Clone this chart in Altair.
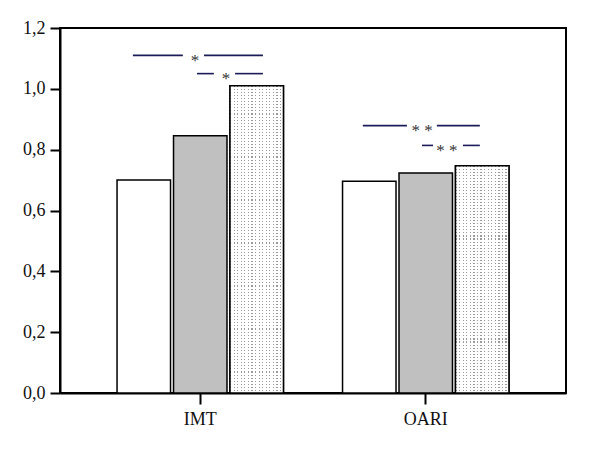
import altair as alt
import pandas as pd

# ---- data ----
categories = ["IMT", "OARI"]
series = ["white", "gray", "dotted"]
values_imt = [0.700, 0.846, 1.010]
values_oari = [0.696, 0.723, 0.747]
series_fill = ["#ffffff", "#c0c0c0", "#e4e4e4"]

# significance annotations (x in group units: IMT=0, OARI=1)
seg_x1 = [-0.298, 0.018, -0.013, 0.156, 0.724, 1.053, 0.987, 1.169]
seg_x2 = [-0.076, 0.280, 0.062, 0.280, 0.920, 1.244, 1.036, 1.244]
seg_y = [1.110, 1.110, 1.050, 1.050, 0.879, 0.879, 0.814, 0.814]
star_x = [-0.022, 0.116, 0.987, 1.098]
star_y = [1.110, 1.050, 0.879, 0.814]
star_text = ["*", "*", "* *", "* *"]

y_ticks = [round(i * 0.1, 1) for i in range(13)]

rows = []
for cat, vals in zip(categories, [values_imt, values_oari]):
    for s, v in zip(series, vals):
        rows.append({"cat": cat, "series": s, "value": v})
bars_df = pd.DataFrame(rows)
seg_df = pd.DataFrame({"x1": seg_x1, "x2": seg_x2, "y": seg_y})
star_df = pd.DataFrame({"x": star_x, "y": star_y, "t": star_text})

FONT = "Liberation Serif, Times New Roman, serif"


# ---- dotted texture built from two striped gradients (style only) ----
def stripes(n, frac, on, off, horizontal):
    stops = []
    for k in range(n):
        a = k / n
        b = (k + frac) / n
        c = (k + 1) / n
        stops += [
            alt.GradientStop(offset=a, color=on),
            alt.GradientStop(offset=b, color=on),
            alt.GradientStop(offset=b, color=off),
            alt.GradientStop(offset=c, color=off),
        ]
    if horizontal:
        return alt.LinearGradient(gradient="linear", x1=0, x2=1, y1=0, y2=0, stops=stops)
    return alt.LinearGradient(gradient="linear", x1=0, x2=0, y1=0, y2=1, stops=stops)


col_grad = stripes(15, 0.35, "#9a9a9a", "#ffffff", True)
row_grad_imt = stripes(100, 0.35, "rgba(255,255,255,0)", "#ffffff", False)
row_grad_oari = stripes(75, 0.35, "rgba(255,255,255,0)", "#ffffff", False)

y_scale = alt.Scale(domain=[0, 1.2], nice=False)
y_axis = alt.Axis(
    values=y_ticks,
    labelExpr="round(datum.value*10)%2==0 ? replace(format(datum.value,'.1f'),'.',',') : ''",
    tickSize={"condition": {"test": "round(datum.value*10)%2==0", "value": 10}, "value": 5},
    tickWidth=2,
    tickColor="black",
    domainColor="black",
    domainWidth=2,
    labelFont=FONT,
    labelFontSize=18,
    labelColor="#111111",
    labelPadding=5,
    grid=False,
    title=None,
)

x_enc = alt.X(
    "cat:N",
    sort=categories,
    scale=alt.Scale(domain=categories, paddingInner=0.262, paddingOuter=0.253),
    axis=alt.Axis(
        labelAngle=0,
        tickSize=11,
        tickWidth=2,
        tickColor="black",
        domainColor="black",
        domainWidth=2,
        labelFont=FONT,
        labelFontSize=18,
        labelColor="#111111",
        labelPadding=6,
        title=None,
    ),
)
xoff_enc = alt.XOffset(
    "series:N", sort=series,
    scale=alt.Scale(domain=series, paddingInner=0.053, paddingOuter=0),
)
y_enc = alt.Y("value:Q", scale=y_scale, axis=y_axis)

base = alt.Chart(bars_df)

bars = base.mark_bar(stroke="black", strokeWidth=1.5).encode(
    x=x_enc,
    xOffset=xoff_enc,
    y=y_enc,
    fill=alt.Fill("series:N", sort=series, scale=alt.Scale(domain=series, range=series_fill), legend=None),
)

dots_cols = base.transform_filter("datum.series == 'dotted'").mark_bar(
    fill=col_grad, strokeWidth=0
).encode(x=x_enc, xOffset=xoff_enc, y=y_enc)

dots_rows_imt = base.transform_filter("datum.series == 'dotted' && datum.cat == 'IMT'").mark_bar(
    fill=row_grad_imt, stroke="black", strokeWidth=1.5
).encode(x=x_enc, xOffset=xoff_enc, y=y_enc)

dots_rows_oari = base.transform_filter("datum.series == 'dotted' && datum.cat == 'OARI'").mark_bar(
    fill=row_grad_oari, stroke="black", strokeWidth=1.5
).encode(x=x_enc, xOffset=xoff_enc, y=y_enc)

ann_x = alt.Scale(domain=[-0.622, 1.627], nice=False, zero=False)

segs = alt.Chart(seg_df).mark_rule(color="#1c1c5a", strokeWidth=1.6).encode(
    x=alt.X("x1:Q", scale=ann_x, axis=None),
    x2="x2:Q",
    y=alt.Y("y:Q", scale=y_scale),
)

stars = alt.Chart(star_df).mark_text(
    font=FONT, fontSize=17, color="#333333", baseline="middle", dy=5.5
).encode(
    x=alt.X("x:Q", scale=ann_x, axis=None),
    y=alt.Y("y:Q", scale=y_scale),
    text="t:N",
)

bar_layer = alt.layer(bars, dots_cols, dots_rows_imt, dots_rows_oari)
ann = alt.layer(segs, stars)

chart = alt.layer(bar_layer, ann).resolve_scale(x="independent").properties(
    width=506,
    height=365,
    autosize=alt.AutoSizeParams(type="none"),
    padding={"left": 52, "top": 20, "right": 20, "bottom": 40},
    background="white",
).configure_view(stroke="black", strokeWidth=2)

chart.save("out.html", embed_options={"renderer": "svg", "actions": False})
